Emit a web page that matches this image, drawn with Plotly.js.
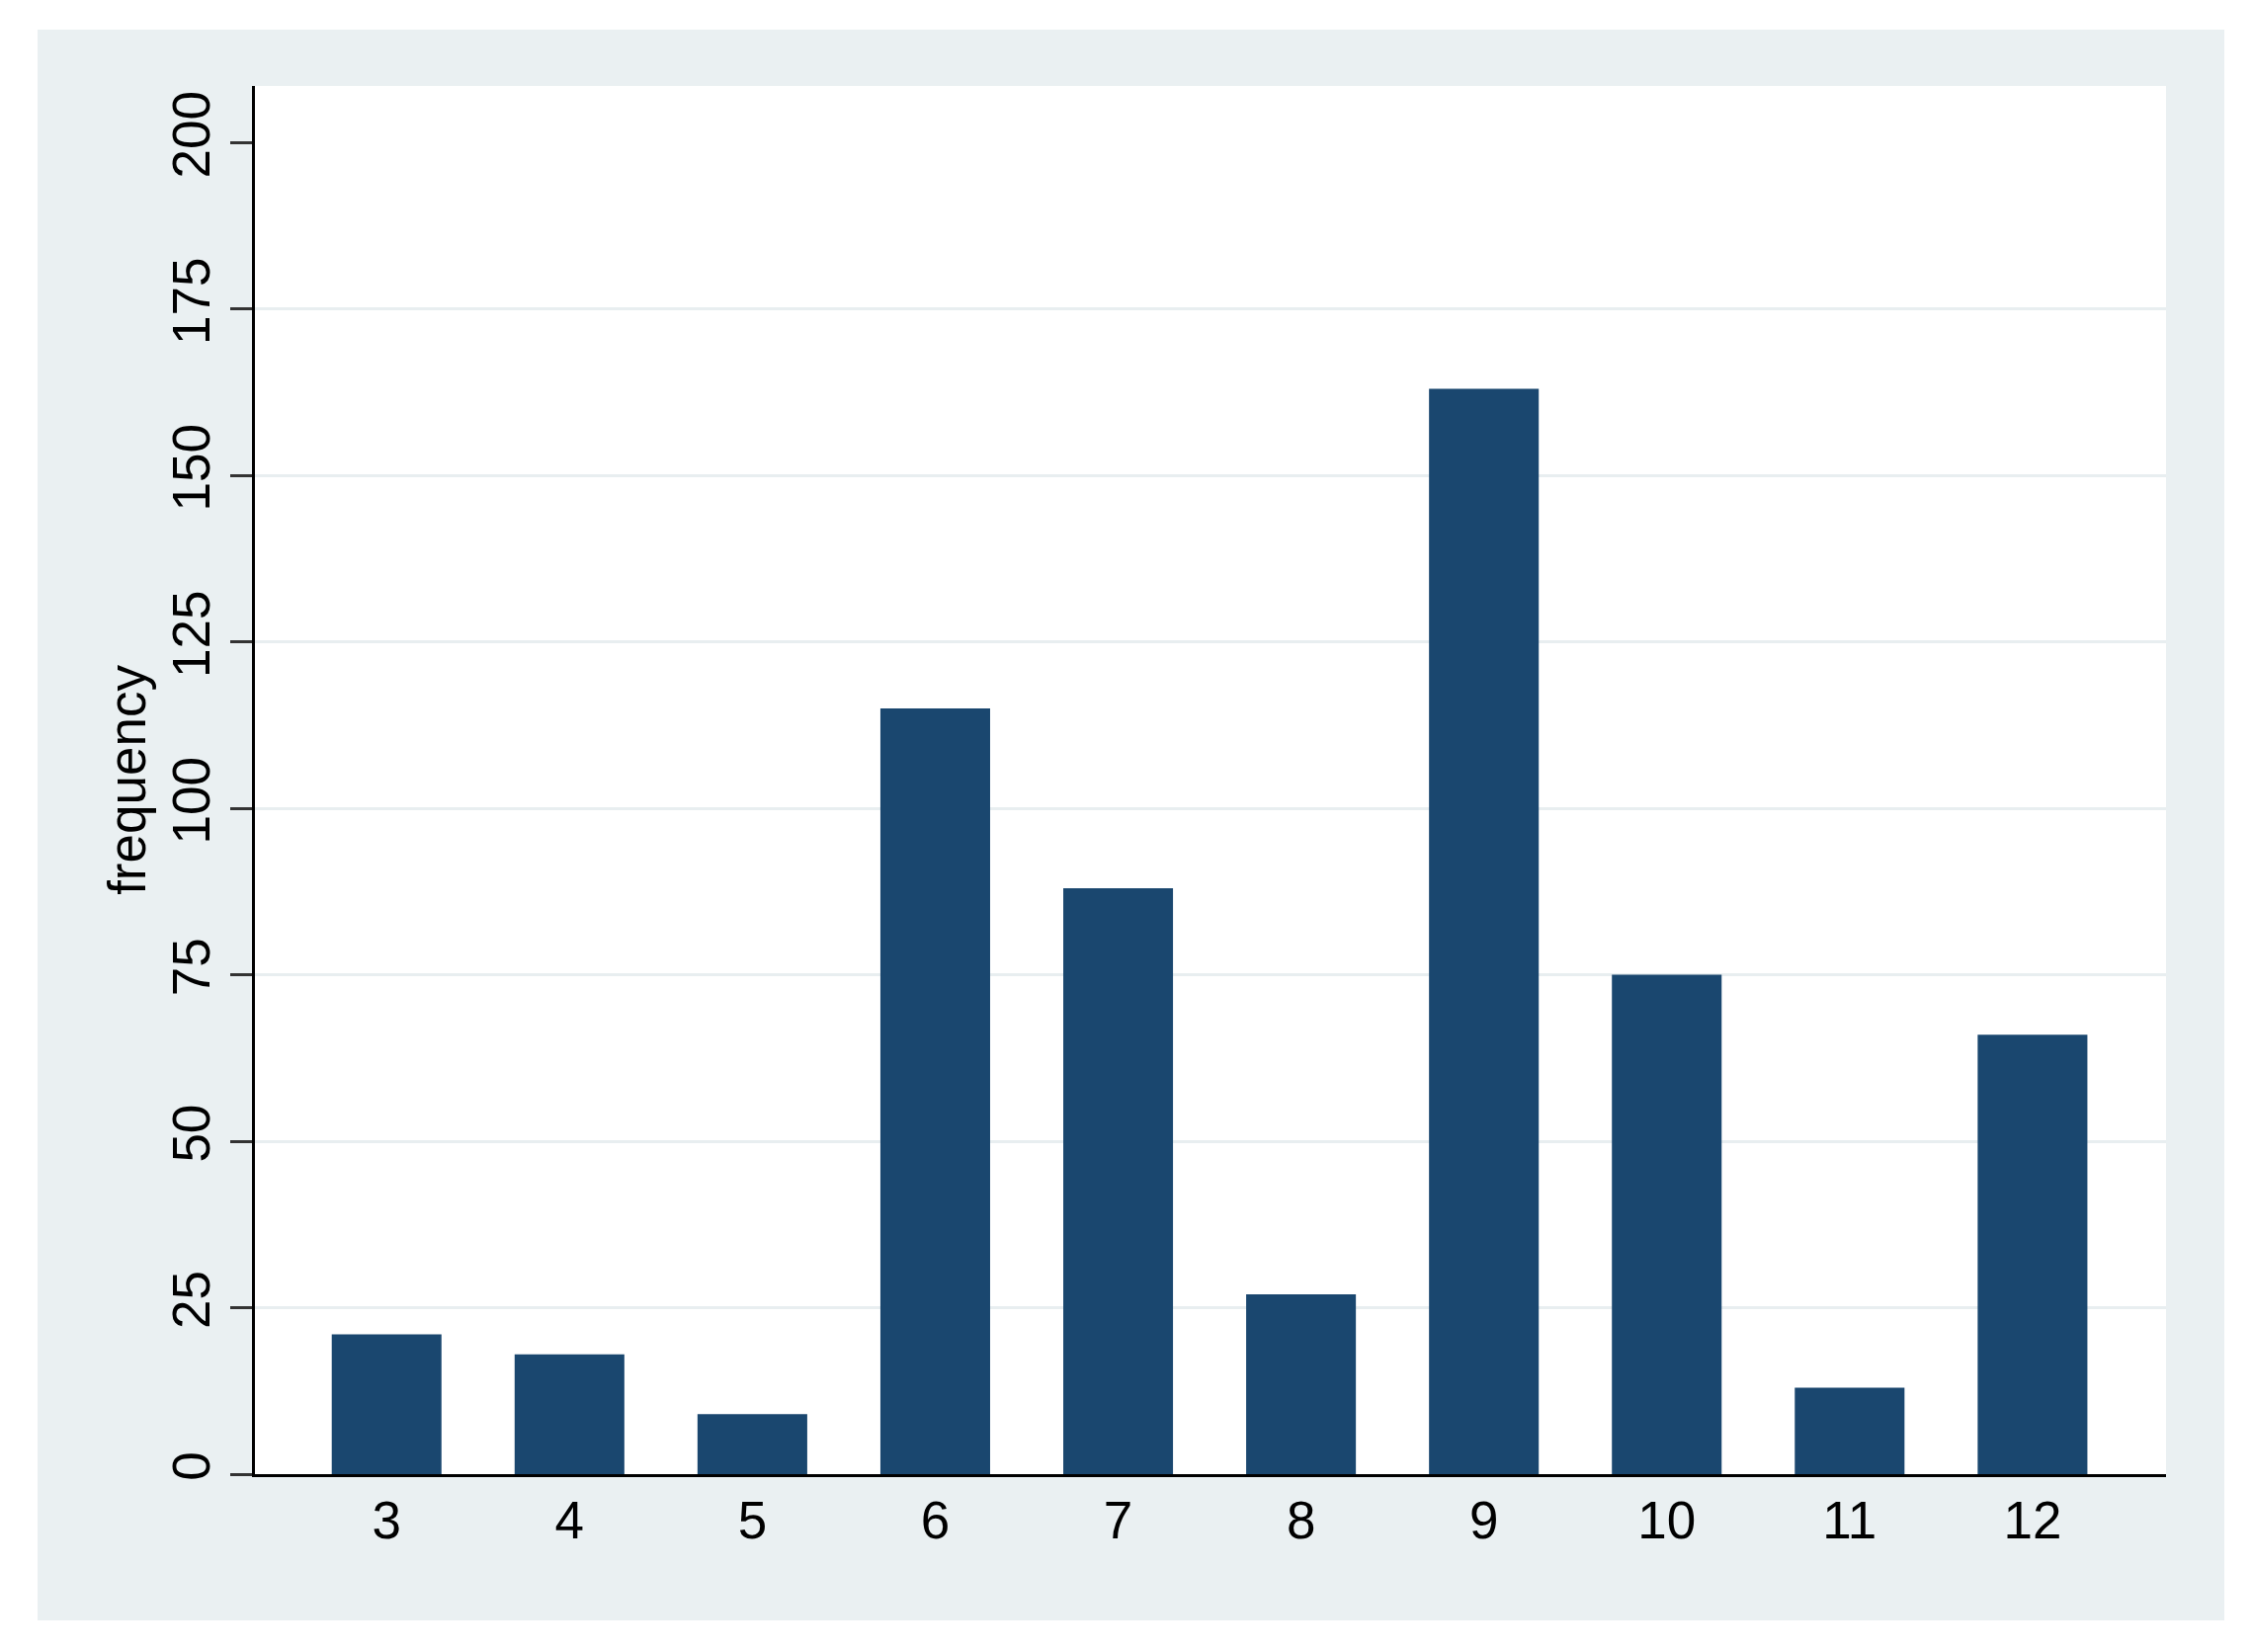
<!DOCTYPE html>
<html>
<head>
<meta charset="utf-8">
<script src="https://cdn.plot.ly/plotly-3.0.1.min.js"></script>
<style>
  html, body { margin: 0; padding: 0; background: #ffffff; }
  #chart { position: absolute; left: 38px; top: 30px; width: 2213px; height: 1610px; }
</style>
</head>
<body>
<div id="chart"></div>
<script>
var categories = [3, 4, 5, 6, 7, 8, 9, 10, 11, 12];
var frequency = [21, 18, 9, 115, 88, 27, 163, 75, 13, 66];
var yTicks = [0, 25, 50, 75, 100, 125, 150, 175, 200];
var gridTicks = [25, 50, 75, 100, 125, 150, 175];

var bars = {
  x: categories,
  y: frequency,
  type: 'bar',
  width: 0.6,
  marker: { color: '#1A476F', line: { width: 0 } },
  hoverinfo: 'x+y'
};

var layout = {
  width: 2213,
  height: 1610,
  margin: { l: 220, r: 59, t: 57, b: 148 },
  paper_bgcolor: '#EAF0F2',
  plot_bgcolor: '#ffffff',
  font: { family: 'Liberation Sans, Arial, sans-serif', size: 53, color: '#000000' },
  showlegend: false,
  xaxis: {
    range: [2.28, 12.73],
    tickvals: categories,
    ticks: '',
    showline: true,
    linecolor: '#000000',
    linewidth: 3,
    showgrid: false,
    zeroline: false,
    ticklabelstandoff: -2
  },
  yaxis: {
    range: [0, 208.5],
    tickvals: yTicks,
    tickangle: -90,
    ticks: 'outside',
    ticklen: 22,
    tickwidth: 3,
    tickcolor: '#333333',
    showline: true,
    linecolor: '#000000',
    linewidth: 3,
    showgrid: false,
    zeroline: false,
    minor: {
      tickvals: gridTicks,
      ticks: '',
      showgrid: true,
      gridcolor: '#E8EEF0',
      gridwidth: 3
    },
    title: { text: 'frequency', font: { size: 53 }, standoff: 0 }
  }
};

var config = { staticPlot: true };

Plotly.newPlot('chart', [bars], layout, config);
</script>
</body>
</html>
